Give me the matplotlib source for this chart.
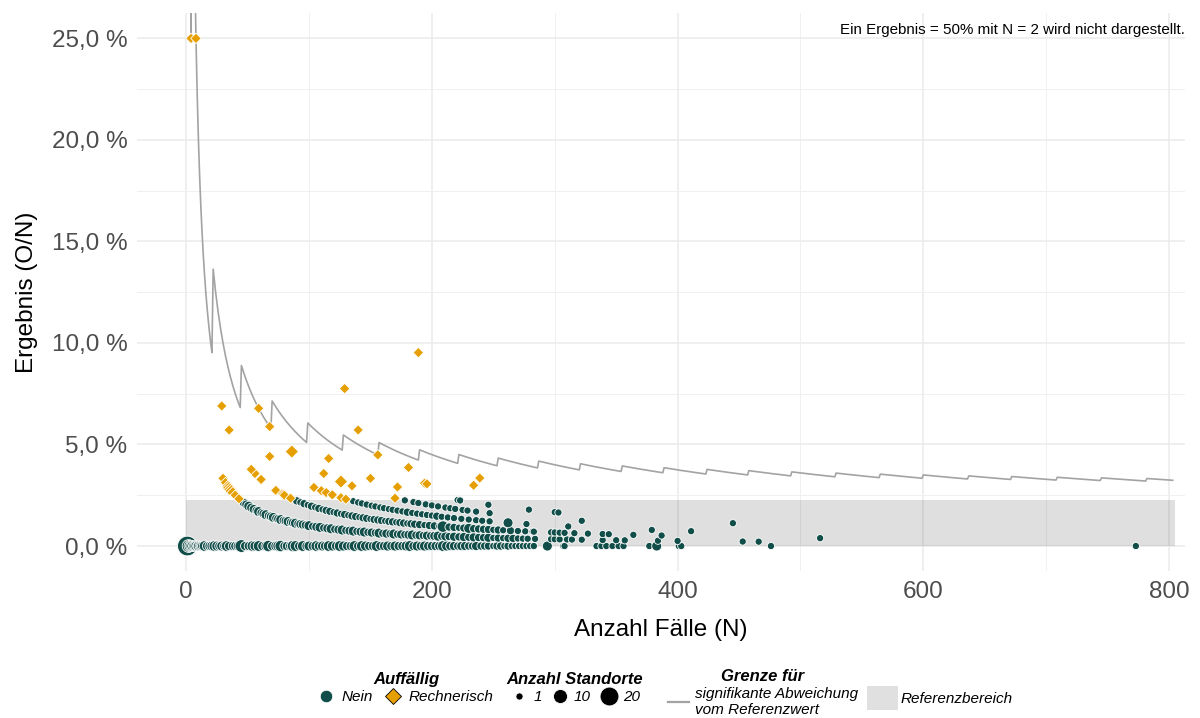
import matplotlib
matplotlib.use('Agg')
import matplotlib.pyplot as plt
from matplotlib.lines import Line2D
from matplotlib.patches import Patch, Rectangle
from matplotlib.ticker import FuncFormatter, MultipleLocator
from matplotlib.font_manager import FontProperties
import numpy as np

plt.rcParams['font.family'] = ['Liberation Sans', 'DejaVu Sans']

# ---------------- data ----------------
ref_upper = 2.28          # Referenzbereich: 0 .. 2.28 %
ref_xmax = 805

# significance limit: counts k valid from N = limit_start_N[i]
limit_start_N = [1, 5, 22, 45, 70, 99, 128, 157, 190, 222, 254, 287, 321, 355,
                 389, 424, 458, 493, 529, 565, 600, 637, 672, 709, 745, 782]
limit_k = [1, 2, 3, 4, 5, 6, 7, 8, 9, 10, 11, 12, 13, 14,
           15, 16, 17, 18, 19, 20, 21, 22, 23, 24, 25, 26]
limit_end_N = 803

# green points (Auffaellig = Nein): (N, Anzahl Standorte) per observed count O
green_O0 = [(1, 22), (2, 8), (3, 6), (4, 5), (5, 5), (6, 4), (7, 4), (8, 4), (9, 3), (10, 4),
            (11, 3), (12, 3), (13, 3), (15, 5), (17, 3), (19, 3), (21, 4), (23, 5), (25, 4),
            (27, 3), (29, 4), (31, 3), (33, 5), (35, 3), (38, 3), (40, 3), (42, 3), (45, 8),
            (48, 3), (51, 3), (54, 5), (56, 4), (59, 5), (62, 3), (65, 4), (67, 6), (70, 3),
            (73, 4), (75, 5), (77, 6), (80, 3), (82, 3), (85, 4), (87, 6), (89, 5), (92, 3),
            (95, 5), (98, 3), (100, 4), (103, 3), (106, 5), (108, 3), (111, 4), (113, 3),
            (116, 5), (119, 4), (122, 3), (125, 5), (128, 4), (131, 3), (134, 3), (137, 5),
            (140, 3), (143, 5), (146, 4), (149, 3), (152, 3), (155, 5), (158, 3), (161, 3),
            (164, 4), (167, 3), (170, 4), (173, 3), (176, 3), (179, 4), (182, 5), (185, 3),
            (188, 4), (191, 3), (194, 4), (197, 3), (200, 3), (203, 3), (206, 3), (209, 5),
            (212, 4), (215, 3), (218, 3), (221, 2), (224, 3), (227, 3), (230, 2), (233, 2),
            (236, 3), (240, 2), (243, 2), (246, 2), (250, 1), (253, 2), (256, 2), (259, 1),
            (262, 2), (265, 1), (268, 1), (271, 1), (274, 1), (277, 1), (280, 1), (283, 1),
            (294, 4), (307, 1), (308, 1), (334, 1), (338, 1), (342, 1), (347, 1), (352, 1),
            (356, 1), (377, 1), (383, 4), (401, 1), (403, 1), (476, 1), (773, 1)]
green_O1 = [(47, 3), (49, 3), (51, 4), (53, 3), (55, 3), (57, 2), (59, 4), (61, 2), (63, 3),
            (65, 4), (67, 2), (69, 3), (71, 4), (73, 2), (75, 3), (77, 4), (79, 2), (81, 3),
            (83, 4), (85, 2), (87, 3), (89, 4), (91, 2), (93, 3), (95, 3), (97, 2), (100, 4),
            (103, 2), (106, 3), (109, 4), (112, 2), (115, 3), (118, 4), (121, 2), (124, 3),
            (127, 4), (130, 2), (133, 3), (136, 4), (139, 2), (142, 3), (145, 4), (148, 2),
            (151, 3), (154, 2), (157, 4), (160, 2), (163, 3), (166, 2), (169, 4), (172, 2),
            (175, 3), (178, 2), (181, 3), (184, 4), (187, 2), (190, 3), (193, 2), (196, 3),
            (199, 2), (202, 3), (205, 4), (208, 2), (211, 3), (214, 2), (218, 3), (222, 2),
            (226, 3), (230, 2), (234, 3), (238, 2), (242, 2), (246, 3), (250, 1), (254, 2),
            (258, 1), (262, 2), (266, 2), (270, 1), (274, 1), (278, 1), (284, 1), (297, 1),
            (300, 1), (304, 1), (310, 1), (314, 1), (322, 1), (339, 1), (350, 1), (357, 1),
            (384, 1), (400, 1), (453, 1), (466, 1)]
green_O2 = [(90, 2), (93, 1), (96, 2), (99, 1), (102, 2), (105, 1), (108, 2), (111, 1),
            (114, 2), (117, 2), (120, 1), (123, 2), (126, 1), (129, 2), (132, 1), (135, 2),
            (138, 2), (141, 1), (144, 2), (147, 2), (150, 1), (153, 2), (156, 2), (159, 2),
            (162, 1), (165, 2), (168, 2), (171, 1), (174, 2), (177, 2), (180, 1), (183, 2),
            (186, 2), (190, 2), (194, 1), (198, 2), (202, 2), (206, 1), (209, 6), (214, 2),
            (218, 2), (222, 1), (226, 2), (230, 4), (234, 2), (238, 2), (242, 2), (246, 2),
            (250, 1), (254, 2), (258, 1), (264, 2), (270, 1), (276, 1), (282, 1), (283, 1),
            (297, 1), (300, 1), (304, 1), (308, 1), (316, 1), (327, 1), (339, 1), (344, 1),
            (364, 1), (387, 1), (516, 1)]
green_O3 = [(136, 1), (140, 1), (143, 1), (147, 1), (151, 1), (154, 1), (158, 1), (161, 1),
            (165, 1), (168, 1), (172, 1), (176, 1), (180, 2), (184, 1), (188, 1), (192, 1),
            (196, 1), (200, 1), (204, 2), (208, 1), (213, 1), (218, 1), (224, 1), (230, 1),
            (236, 1), (241, 1), (247, 1), (262, 4), (277, 1), (311, 1), (379, 1), (411, 1)]
green_O4 = [(178, 1), (185, 1), (189, 1), (195, 1), (200, 1), (205, 1), (211, 1), (215, 1),
            (219, 1), (225, 1), (229, 1), (236, 1), (247, 1), (322, 1)]
green_O5 = [(221, 1), (223, 1), (246, 1), (279, 1), (300, 1), (303, 1), (445, 1)]

# orange points (Auffaellig = Rechnerisch): (N, O, Anzahl Standorte)
orange_pts = [(4, 1, 1), (8, 2, 1), (29, 2, 1), (35, 2, 1), (59, 4, 1), (68, 4, 1),
              (189, 18, 1), (129, 10, 1), (140, 8, 1), (86, 4, 3), (68, 3, 1), (116, 5, 1),
              (156, 7, 1), (181, 7, 1), (112, 4, 1), (150, 5, 1), (126, 4, 3), (135, 4, 1),
              (172, 5, 1), (194, 6, 1), (196, 6, 1), (239, 8, 1), (234, 7, 1), (170, 4, 1),
              (73, 2, 1), (61, 2, 1), (56, 2, 1), (53, 2, 1), (30, 1, 1), (32, 1, 1),
              (34, 1, 2), (35, 1, 3), (36, 1, 3), (37, 1, 3), (38, 1, 2), (40, 1, 1),
              (43, 1, 1), (78, 2, 1), (79, 2, 1), (80, 2, 1), (85, 2, 1), (104, 3, 1),
              (110, 3, 1), (114, 3, 1), (119, 3, 1), (126, 3, 1), (130, 3, 1)]

legend_sizes = [1, 10, 20]

# ---------------- styling ----------------
GREEN = '#124E49'
ORANGE = '#E69F00'
LINE_GREY = '#A3A3A3'


def size_of(cnt):
    d_px = np.sqrt(52 + 16.0 * (np.asarray(cnt, dtype=float) - 1))
    return (0.72 * d_px) ** 2


fig = plt.figure(figsize=(12, 7.18), dpi=100)
ax = fig.add_axes([137 / 1200, 1 - 571.4 / 718, (1185 - 137) / 1200, (571.4 - 13) / 718])

ax.set_xlim(-40, 813)
ax.set_ylim(-1.25, 26.25)
for s in ax.spines.values():
    s.set_visible(False)
ax.xaxis.set_major_locator(MultipleLocator(200))
ax.xaxis.set_minor_locator(MultipleLocator(100))
ax.yaxis.set_major_locator(MultipleLocator(5))
ax.yaxis.set_minor_locator(MultipleLocator(2.5))
ax.yaxis.set_major_formatter(FuncFormatter(lambda v, p: f"{v:.1f} %".replace('.', ',')))
ax.grid(which='major', color='#EBEBEB', linewidth=1.1)
ax.grid(which='minor', color='#F0F0F0', linewidth=0.7)
ax.set_axisbelow(True)
ax.tick_params(which='both', length=0)
ax.tick_params(axis='y', labelsize=17.5, labelcolor='#4D4D4D', pad=7)
ax.tick_params(axis='x', labelsize=17.5, labelcolor='#4D4D4D', pad=7)

# reference range
ax.add_patch(Rectangle((0, 0), ref_xmax, ref_upper, facecolor='black', alpha=0.125,
                       edgecolor='none', zorder=1))

# significance limit line
lim_x, lim_y = [], []
for i, (n0, k) in enumerate(zip(limit_start_N, limit_k)):
    n1 = limit_start_N[i + 1] if i + 1 < len(limit_start_N) else limit_end_N + 1
    for n in range(n0, n1):
        lim_x.append(n)
        lim_y.append(100.0 * k / n)
ax.plot(lim_x, lim_y, color=LINE_GREY, linewidth=1.2, zorder=2)

# points
gx, gy, gc = [], [], []
for O, lst in enumerate([green_O0, green_O1, green_O2, green_O3, green_O4, green_O5]):
    for n, c in lst:
        gx.append(n)
        gy.append(100.0 * O / n)
        gc.append(c)
ax.scatter(gx, gy, s=size_of(gc), marker='o', facecolor=GREEN, edgecolor='white',
           linewidth=0.6, zorder=3)

ox = [p[0] for p in orange_pts]
oy = [100.0 * p[1] / p[0] for p in orange_pts]
oc = [p[2] for p in orange_pts]
ax.scatter(ox, oy, s=size_of(oc) * 1.05, marker='D', facecolor=ORANGE, edgecolor='white',
           linewidth=0.6, zorder=3)

ax.set_xlabel('Anzahl Fälle (N)', fontsize=17.5)
ax.set_ylabel('Ergebnis (O/N)', fontsize=17.5)
ax.xaxis.set_label_coords(0.5, (571.4 - 630) / 558.4)
ax.xaxis.label.set_va('center')
ax.yaxis.set_label_coords((27 - 137) / 1048, 0.5)
ax.yaxis.label.set_va('center')

ax.text(1.0, (571.4 - 30) / 558.4, 'Ein Ergebnis = 50% mit N = 2 wird nicht dargestellt.',
        transform=ax.transAxes, ha='right', va='center', fontsize=10.9, color='black')

# ---------------- legends ----------------
tprop = FontProperties(family='Liberation Sans', weight='bold', style='italic', size=12)
lprop = FontProperties(family='Liberation Sans', style='italic', size=11)
common = dict(frameon=False, prop=lprop, title_fontproperties=tprop, borderpad=0,
              labelspacing=0.2, loc='center')

h1 = [Line2D([], [], linestyle='none', marker='o', markersize=9, markerfacecolor=GREEN,
             markeredgecolor='white', markeredgewidth=0.6),
      Line2D([], [], linestyle='none', marker='D', markersize=8.5, markerfacecolor=ORANGE,
             markeredgecolor='black', markeredgewidth=0.6)]
leg1 = fig.legend(h1, ['Nein', 'Rechnerisch'], ncol=2, title='Auffällig',
                  bbox_to_anchor=(406 / 1200, 1 - 688 / 718), handletextpad=0.5,
                  columnspacing=0.8, handlelength=1.0, **common)

h2 = [Line2D([], [], linestyle='none', marker='o', markersize=np.sqrt(size_of(c)),
             markerfacecolor='black', markeredgecolor='white', markeredgewidth=0.6)
      for c in legend_sizes]
leg2 = fig.legend(h2, [str(c) for c in legend_sizes], ncol=3, title='Anzahl Standorte',
                  bbox_to_anchor=(575 / 1200, 1 - 688 / 718), handletextpad=0.3,
                  columnspacing=0.6, handlelength=1.2, **common)

h3 = [Line2D([], [], color=LINE_GREY, linewidth=1.6)]
leg3 = fig.legend(h3, ['signifikante Abweichung\nvom Referenzwert'], title='Grenze für',
                  bbox_to_anchor=(763 / 1200, 1 - 693 / 718), handletextpad=0.4,
                  handlelength=1.4, **common)

h4 = [Patch(facecolor='#E0E0E0', edgecolor='none')]
leg4 = fig.legend(h4, ['Referenzbereich'], bbox_to_anchor=(940 / 1200, 1 - 698 / 718),
                  handletextpad=0.2, handlelength=2.0, handleheight=2.0, **common)
for lg in (leg1, leg2, leg3):
    lg.get_title().set_multialignment('center')

fig.savefig('out.png', dpi=100)
